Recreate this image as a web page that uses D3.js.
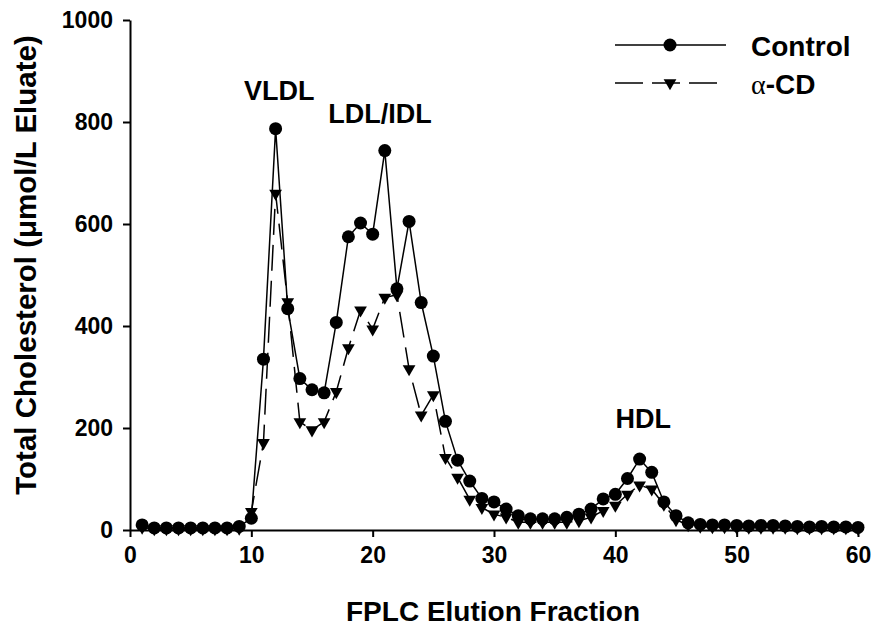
<!DOCTYPE html>
<html>
<head>
<meta charset="utf-8">
<script src="https://cdn.jsdelivr.net/npm/d3@7"></script>
<style>
  body { margin: 0; background: #fff; }
  text { font-family: "Liberation Sans", Arial, sans-serif; font-weight: bold; }
</style>
</head>
<body>
<div id="chart"></div>
<script>
// fraction numbers 1..60
const fractions = [1,2,3,4,5,6,7,8,9,10,11,12,13,14,15,16,17,18,19,20,21,22,23,24,25,26,27,28,29,30,
  31,32,33,34,35,36,37,38,39,40,41,42,43,44,45,46,47,48,49,50,51,52,53,54,55,56,57,58,59,60]

const controlValues = [10,4,4,4,4,4,4,4,7,23,335,787,434,297,275,269,407,575,602,580,
  744,473,605,446,341,213,137,96,62,55,41,28,22,22,22,25,31,41,61,70,
  101,139,113,55,28,14,11,10,10,9,8,9,9,8,7,6,7,6,6,5]

const acdValues = [5,2,2,2,2,2,2,2,3,36,171,660,447,212,196,212,271,357,431,394,
  456,461,316,225,265,142,103,60,44,31,25,15,15,15,15,15,18,25,38,48,
  70,88,80,50,20,10,7,6,6,5,5,5,5,5,4,4,4,4,4,3]

const xTicks = [0,10,20,30,40,50,60]
const yTicks = [0,200,400,600,800,1000]

const peakLabels = [
  { text: 'VLDL', x: 12.3, y: 843 },
  { text: 'LDL/IDL', x: 20.6, y: 798 },
  { text: 'HDL', x: 42.3, y: 200 }
]

const width = 884
const height = 632

const xScale = d3.scaleLinear().domain([0, 60]).range([130, 858])
const yScale = d3.scaleLinear().domain([0, 1000]).range([530, 20])

const svg = d3.select('#chart').append('svg').attr('width', width).attr('height', height)

// axes
const yAxis = d3.axisLeft(yScale).tickValues(yTicks).tickFormat(d3.format('d'))
  .tickSize(7).tickSizeOuter(0).tickPadding(10)
const xAxis = d3.axisBottom(xScale).tickValues(xTicks).tickFormat(d3.format('d'))
  .tickSize(7).tickSizeOuter(0).tickPadding(10)

svg.append('g').attr('transform', 'translate(' + xScale(0) + ',0)').call(yAxis)
svg.append('g').attr('transform', 'translate(0,' + yScale(0) + ')').call(xAxis)

svg.selectAll('.domain').attr('stroke', '#000').attr('stroke-width', 2)
svg.selectAll('.tick line').attr('stroke', '#000').attr('stroke-width', 2)
svg.selectAll('.tick text').attr('fill', '#000').style('font-size', '23px')

svg.append('text')
  .attr('transform', 'translate(36,265) rotate(-90)')
  .attr('text-anchor', 'middle')
  .style('font-size', '29.5px')
  .text('Total Cholesterol (μmol/L Eluate)')

svg.append('text')
  .attr('x', 493).attr('y', 621)
  .attr('text-anchor', 'middle')
  .style('font-size', '28px')
  .text('FPLC Elution Fraction')

const line = d3.line()
  .x(function(d) { return xScale(d[0]) })
  .y(function(d) { return yScale(d[1]) })

const acdData = fractions.map(function(f, i) { return [f, acdValues[i]] })
const controlData = fractions.map(function(f, i) { return [f, controlValues[i]] })

const tri = d3.symbol().type(d3.symbolTriangle).size(70)

svg.append('path').datum(acdData)
  .attr('d', line).attr('fill', 'none').attr('stroke', '#000')
  .attr('stroke-width', 1.5).attr('stroke-dasharray', '26,10')

svg.selectAll('.acd').data(acdData).enter().append('path')
  .attr('class', 'acd')
  .attr('d', tri)
  .attr('transform', function(d) { return 'translate(' + xScale(d[0]) + ',' + yScale(d[1]) + ') rotate(180)' })
  .attr('fill', '#000')

svg.append('path').datum(controlData)
  .attr('d', line).attr('fill', 'none').attr('stroke', '#000').attr('stroke-width', 1.5)

svg.selectAll('.ctrl').data(controlData).enter().append('circle')
  .attr('class', 'ctrl')
  .attr('cx', function(d) { return xScale(d[0]) })
  .attr('cy', function(d) { return yScale(d[1]) })
  .attr('r', 6.5)
  .attr('fill', '#000')

// peak labels
svg.selectAll('.peak').data(peakLabels).enter().append('text')
  .attr('class', 'peak')
  .attr('x', function(d) { return xScale(d.x) })
  .attr('y', function(d) { return yScale(d.y) })
  .attr('text-anchor', 'middle')
  .style('font-size', '27px')
  .text(function(d) { return d.text })

// legend
const legend = svg.append('g')
legend.append('line').attr('x1', 615).attr('x2', 726).attr('y1', 45).attr('y2', 45)
  .attr('stroke', '#000').attr('stroke-width', 1.5)
legend.append('circle').attr('cx', 670).attr('cy', 45).attr('r', 6.5).attr('fill', '#000')
legend.append('text').attr('x', 751).attr('y', 56).style('font-size', '28px').text('Control')

legend.append('line').attr('x1', 615).attr('x2', 726).attr('y1', 83).attr('y2', 83)
  .attr('stroke', '#000').attr('stroke-width', 1.5).attr('stroke-dasharray', '28,9')
legend.append('path').attr('d', tri)
  .attr('transform', 'translate(670,83) rotate(180)').attr('fill', '#000')
const acdText = legend.append('text').attr('x', 751).attr('y', 94).style('font-size', '28px')
acdText.append('tspan').style('font-family', '"Liberation Serif", serif').style('font-weight', 'normal').text('α')
acdText.append('tspan').text('-CD')
</script>
</body>
</html>
